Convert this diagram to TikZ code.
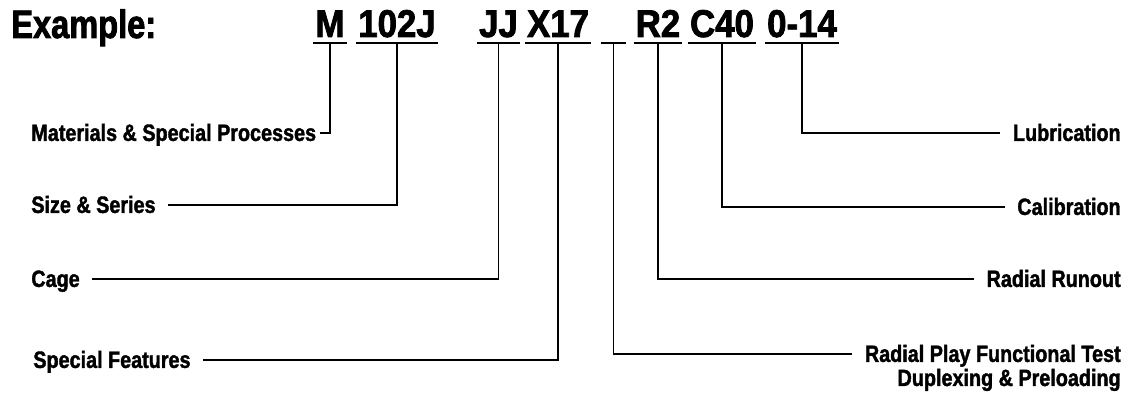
\documentclass[tikz,border=0pt]{standalone}
\usepackage{fontspec}
\newfontfamily\condfont{Liberation Sans}[FakeStretch=0.84,FakeBold=1.6]
\newfontfamily\codefont{Liberation Sans}[FakeStretch=0.9,FakeBold=2]
\newfontfamily\headfont{Liberation Sans}[FakeStretch=0.82,FakeBold=2]

\tikzset{
  code/.style={font=\codefont\bfseries\fontsize{22}{24}\selectfont, inner xsep=1pt, inner ysep=3.4pt, text depth=0pt, anchor=base},
  lbl/.style={font=\condfont\bfseries\fontsize{13.4}{15}\selectfont, inner sep=0pt, text height=9pt, text depth=0pt},
  uline/.style={line width=1.1pt},
  lead/.style={line width=1.1pt},
}

\begin{document}
\begin{tikzpicture}
    \useasboundingbox (0,0) rectangle (22.52,7.86);
    \node[anchor=base west, inner sep=0pt, font=\headfont\bfseries\fontsize{22.6}{26}\selectfont] (EX) at (0.22, 7.1) {Example:};

    \node[code] (M) at (6.60,	7.12) {M};
    \node[code] (S) at (7.94,	7.12) {102J};
    \node[code] (C) at (9.97,	7.12) {JJ};
    \node[code] (F) at (11.16,	7.12) {X17};
    \node[code, minimum width=0.5cm] (P) at (12.27,	7.12) {};
    \node[code] (R) at (13.16,	7.12) {R2};
    \node[code] (K) at (14.44,	7.12) {C40};
    \node[code] (L) at (16.04,	7.12) {0-14};
    \foreach \n in {M,S,C,F,P,R,K,L}
      \draw[uline] (\n.south west) -- (\n.south east);

    \node[lbl, anchor=west] (MM) at (0.62,	5.20) {Materials \& Special Processes};
    \node[lbl, anchor=west] (SS) at (0.62,	3.76) {Size \& Series};
    \node[lbl, anchor=west] (CC) at (0.62,	2.28) {Cage};
    \node[lbl, anchor=west] (FF) at (0.66,	0.66) {Special Features};

    \node[lbl, anchor=east] (LL) at (22.42,	5.20) {Lubrication};
    \node[lbl, anchor=east] (KK) at (22.42,	3.72) {Calibration};
    \node[lbl, anchor=east] (RR) at (22.42,	2.28) {Radial Runout};
    \node[lbl, anchor=east] (PP) at (22.42,	0.78) {Radial Play Functional Test};
    \node[lbl, anchor=base east] (DD) at (22.42,	0.14) {Duplexing \& Preloading};

    % code -> meaning
    \foreach \a/\b/\g in {M/MM.east/2pt, S/SS.east/7pt, C/CC.east/7pt, F/FF.east/7pt, P/PP.west/7pt, R/RR.west/7pt, K/KK.west/7pt, L/LL.west/7pt}
      \draw[lead, shorten >=\g] (\a.south) |- (\b);
    \end{tikzpicture}
\end{document}
